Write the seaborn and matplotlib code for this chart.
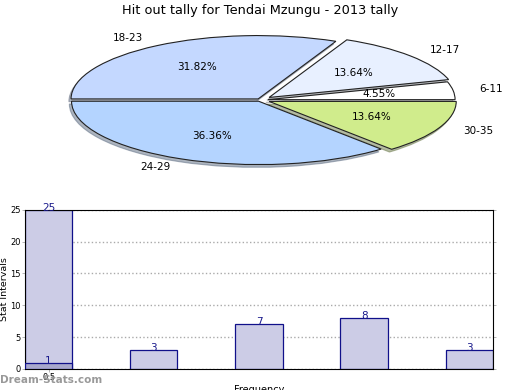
import numpy as np
import pandas as pd
import seaborn as sns
import matplotlib
matplotlib.use('Agg')
import matplotlib.pyplot as plt

# pie data (counter-clockwise from 0 deg)
pie_labels = ['6-11', '12-17', '18-23', '24-29', '30-35']
pie_counts = [1, 3, 7, 8, 3]
pie_colors = ['#ffffff', '#e8f0ff', '#c4d8ff', '#b4d4ff', '#d0ec8c']
pie_explode = [0.04, 0.06, 0.02, 0.02, 0.05]

# bar data
bar_names = ['0.5', 'b', 'c', 'd', 'e']
bar_values = [25, 3, 7, 8, 3]
overlay_value = 1

fig = plt.figure(figsize=(5.2, 3.9), dpi=100)

# --- pie ---
ax1 = fig.add_axes([0.032, 0.532, 0.937, 0.423])
wedges, texts, autotexts = ax1.pie(
    pie_counts, labels=pie_labels, colors=pie_colors, explode=pie_explode,
    autopct='%.2f%%', startangle=0, counterclock=True,
    shadow={'ox': -0.008, 'oy': -0.03, 'shade': 0.5},
    radius=0.96, labeldistance=1.14, pctdistance=0.6,
    wedgeprops={'edgecolor': '#222222', 'linewidth': 0.8},
    textprops={'fontsize': 7.5})
ax1.set_aspect('auto')
ax1.set_xlim(-1.25, 1.25)
ax1.set_ylim(-1.25, 1.25)
fig.text(0.5, 0.972, 'Hit out tally for Tendai Mzungu - 2013 tally',
         ha='center', va='center', fontsize=9.3)

# --- bars ---
ax2 = fig.add_axes([0.048, 0.054, 0.9, 0.408])
df = pd.DataFrame({'name': bar_names, 'value': bar_values})
sns.barplot(data=df, x='name', y='value', order=bar_names, width=0.45,
            color='#ccccE6', saturation=1, edgecolor='#10108a',
            linewidth=0.9, ax=ax2, zorder=2)
ax2.bar([0], [overlay_value], width=0.45, color='#a8a8cc',
        edgecolor='#10108a', linewidth=0.9, zorder=3)

for i, v in enumerate(bar_values):
    ax2.text(i, v + 0.3, str(v), ha='center', va='center',
             fontsize=7.5, color='#1a1a8c', zorder=5)
ax2.text(0, overlay_value + 0.3, str(overlay_value), ha='center',
         va='center', fontsize=7.5, color='#1a1a8c', zorder=5)

ax2.set_xlim(-0.225, 4.225)
ax2.set_ylim(0, 25)
ax2.set_yticks([0, 5, 10, 15, 20, 25])
ax2.set_xticks([0])
ax2.set_xticklabels(['0.5'])
ax2.tick_params(labelsize=6, length=2, width=0.5, color='#999999',
                right=True, pad=1)
ax2.yaxis.grid(True, linestyle=':', color='#aaaaaa', linewidth=1)
ax2.xaxis.grid(True, linestyle=':', color='#aaaaaa', linewidth=1)
ax2.set_axisbelow(True)
ax2.set_ylabel('Stat Intervals', fontsize=6.8)
ax2.yaxis.set_label_coords(-0.034, 0.5)
ax2.set_xlabel('Frequency', fontsize=7)
ax2.xaxis.set_label_coords(0.5, -0.1)
for s in ax2.spines.values():
    s.set_linewidth(0.8)

fig.text(0.0, 0.025, 'Dream-Stats.com', fontsize=7.5, color='#999999',
         fontweight='bold', ha='left', va='center')

fig.savefig('out.png', dpi=100)
